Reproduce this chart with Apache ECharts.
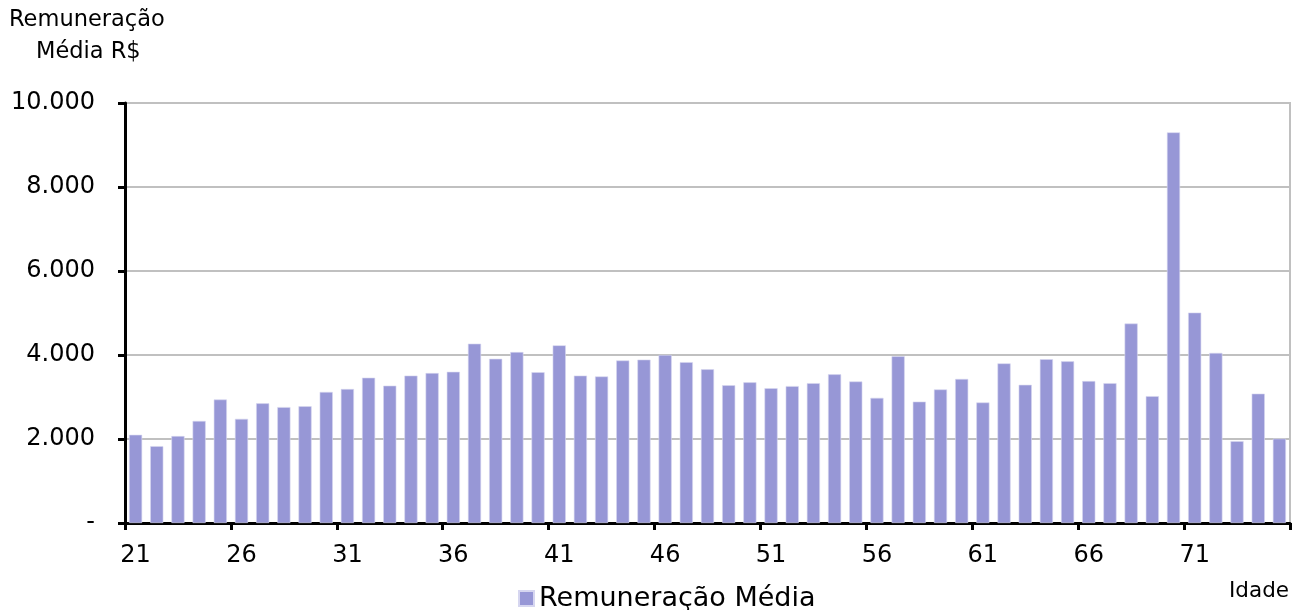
<!DOCTYPE html>
<html>
<head>
<meta charset="utf-8">
<script src="https://cdn.jsdelivr.net/npm/echarts@6/dist/echarts.min.js"></script>
<style>html,body{margin:0;padding:0;background:#fff}#c{width:1305px;height:610px}</style>
</head>
<body>
<div id="c"></div>
<script>
const ages = [21,22,23,24,25,26,27,28,29,30,31,32,33,34,35,36,37,38,39,40,41,42,43,44,45,46,47,48,49,50,51,52,53,54,55,56,57,58,59,60,61,62,63,64,65,66,67,68,69,70,71,72,73,74,75].map(String);
const remuneracao = [2100,1830,2070,2430,2940,2480,2850,2760,2780,3120,3190,3460,3270,3510,3570,3600,4270,3910,4070,3590,4230,3510,3490,3870,3890,4000,3830,3660,3280,3350,3210,3260,3330,3540,3370,2980,3970,2890,3180,3430,2870,3800,3290,3900,3850,3380,3330,4750,3020,9300,5010,4050,1950,3080,2010];
const seriesName = 'Remuneração Média';
const yTitleLines = ['Remuneração', 'Média R$'];
const xTitle = 'Idade';

const font = '"DejaVu Sans", sans-serif';
const chart = echarts.init(document.getElementById('c'));
function fmt(v){ if(v===0) return '-'; return String(v).replace(/\B(?=(\d{3})+(?!\d))/g,'.'); }
chart.setOption({
  animation:false,
  grid:{left:125,right:15,top:103,bottom:87,show:true,borderColor:'#c0c0c0',borderWidth:2,backgroundColor:'transparent'},
  legend:{left:513,top:580,itemWidth:15,itemHeight:15,itemGap:7,
    textStyle:{fontFamily:font,fontSize:27,color:'#000'},
    data:[{name:seriesName,icon:'rect'}]},
  graphic:[
    {type:'text',left:9,top:9,style:{text:yTitleLines[0],fontFamily:'DejaVu Sans',fontSize:22.5,fill:'#000'}},
    {type:'text',left:36,top:41,style:{text:yTitleLines[1],fontFamily:'DejaVu Sans',fontSize:22.5,fill:'#000'}},
    {type:'text',left:1229,top:580,style:{text:xTitle,fontFamily:'DejaVu Sans',fontSize:21.5,fill:'#000'}}
  ],
  xAxis:{type:'category',data:ages,boundaryGap:true,
    axisLine:{lineStyle:{color:'#000',width:3}},
    axisTick:{show:true,interval:4,length:7,lineStyle:{color:'#000',width:3}},
    axisLabel:{interval:4,fontFamily:font,fontSize:24,color:'#000',margin:21},
    splitLine:{show:false}},
  yAxis:{type:'value',min:0,max:10000,interval:2000,
    axisLine:{show:true,lineStyle:{color:'#000',width:3}},
    axisTick:{show:true,length:7,lineStyle:{color:'#000',width:3}},
    axisLabel:{formatter:fmt,fontFamily:font,fontSize:24,color:'#000',margin:30},
    splitLine:{lineStyle:{color:'#c0c0c0',width:2}}},
  series:[{name:seriesName,type:'bar',data:remuneracao,barCategoryGap:'38%',
    itemStyle:{color:'#9797d6',borderColor:'#d6d6f0',borderWidth:0.6}}]
});
</script>
</body>
</html>
